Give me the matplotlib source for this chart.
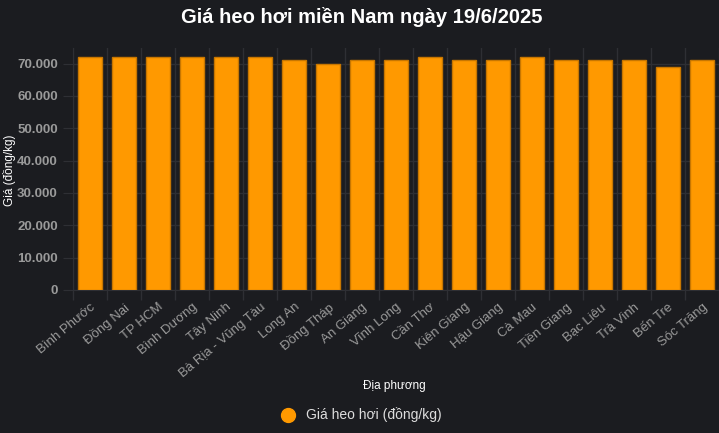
import matplotlib
matplotlib.use("Agg")
import matplotlib.pyplot as plt
from matplotlib.ticker import FuncFormatter, MultipleLocator
from matplotlib.lines import Line2D

plt.rcParams['font.family'] = ['Liberation Sans', 'DejaVu Sans']

provinces = ["Bình Phước", "Đồng Nai", "TP HCM", "Bình Dương", "Tây Ninh",
             "Bà Rịa - Vũng Tàu", "Long An", "Đồng Tháp", "An Giang", "Vĩnh Long",
             "Cần Thơ", "Kiên Giang", "Hậu Giang", "Cà Mau", "Tiền Giang",
             "Bạc Liêu", "Trà Vinh", "Bến Tre", "Sóc Trăng"]
prices = [72000, 72000, 72000, 72000, 72000, 72000, 71000, 70000, 71000, 71000,
          72000, 71000, 71000, 72000, 71000, 71000, 71000, 69000, 71000]

title = "Giá heo hơi miền Nam ngày 19/6/2025"
ylabel = "Giá (đồng/kg)"
xlabel = "Địa phương"
series_name = "Giá heo hơi (đồng/kg)"

BG = "#1b1c20"
GRID = "#2e2f34"
TICK = "#9a9a9a"
BAR = "#ff9900"
EDGE = "#c77600"

fig = plt.figure(figsize=(7.19, 4.33), dpi=100, facecolor=BG)
ax = fig.add_axes([73/719, 1 - 290/433, (719 - 73)/719, (290 - 48)/433])
ax.set_facecolor(BG)

x = range(len(provinces))
ax.bar(x, prices, width=0.69, color=BAR, edgecolor=EDGE, linewidth=1.0, zorder=3)

ax.set_xlim(-0.5, len(provinces) - 0.5)
ax.set_ylim(0, 74800)
ax.yaxis.set_major_locator(MultipleLocator(10000))
ax.yaxis.set_major_formatter(FuncFormatter(lambda v, p: f"{int(v):,}".replace(",", ".")))

ax.set_xticks([i + 0.5 for i in range(-1, len(provinces))], minor=True)
ax.set_xticks(list(x))
ax.set_xticklabels(provinces, rotation=40, ha="right", rotation_mode="anchor",
                   color=TICK, fontsize=9.5)
ax.tick_params(axis="x", which="major", length=0, pad=8)
ax.tick_params(axis="x", which="minor", length=7, color=GRID, width=1)
ax.tick_params(axis="y", length=7, color=GRID, colors=TICK, labelsize=9.5, pad=4)
for lbl in ax.get_yticklabels():
    lbl.set_fontweight("bold")

ax.grid(True, which="minor", axis="x", color=GRID, linewidth=1, zorder=0)
ax.grid(True, which="major", axis="y", color=GRID, linewidth=1, zorder=0)
for s in ax.spines.values():
    s.set_visible(False)
ax.spines["left"].set_visible(True)
ax.spines["left"].set_color(GRID)
ax.spines["bottom"].set_visible(True)
ax.spines["bottom"].set_color(GRID)

fig.text(362/719, 1 - 17/433, title, ha="center", va="center", color="white",
         fontsize=14.5, fontweight="bold")
fig.text(10/719, 1 - 170/433, ylabel, ha="center", va="center", rotation=90,
         color="white", fontsize=8.5)
fig.text(394/719, 1 - 386/433, xlabel, ha="center", va="center", color="white",
         fontsize=8.5)

handle = Line2D([], [], marker="o", linestyle="none", markersize=10,
                markerfacecolor=BAR, markeredgecolor=BAR)
leg = fig.legend([handle], [series_name], loc="center", bbox_to_anchor=(358/719, 1 - 415/433),
                 frameon=False, fontsize=10, handletextpad=0.3, labelcolor="#dddddd")

fig.savefig("out.png", dpi=100, facecolor=BG)
